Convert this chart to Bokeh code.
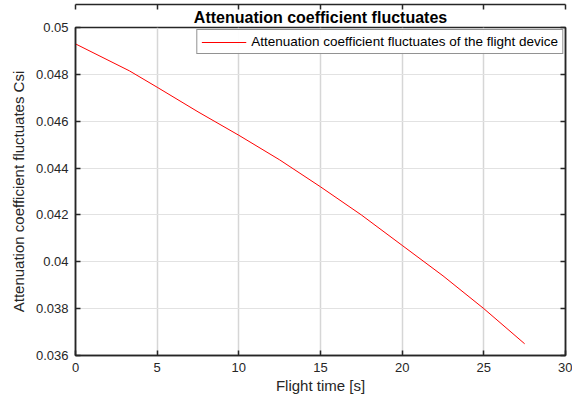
from bokeh.plotting import figure
from bokeh.models import Range1d, LinearAxis, FixedTicker, Legend, LegendItem, Title, Grid
from bokeh.embed import file_html
from bokeh.resources import INLINE

# Data
flight_time = [0, 3.3, 5, 7.5, 10, 12.5, 15, 17.5, 20, 22.5, 25, 27.5]
csi = [0.04930, 0.04815, 0.04745, 0.04640, 0.04540, 0.04435,
       0.04320, 0.04200, 0.04070, 0.03940, 0.03800, 0.03650]
x_ticks = [0, 5, 10, 15, 20, 25, 30]
y_ticks = [0.036, 0.038, 0.040, 0.042, 0.044, 0.046, 0.048, 0.050]
y_tick_labels = ["0.036", "0.038", "0.04", "0.042", "0.044", "0.046", "0.048", "0.05"]

FONT = "Liberation Sans"
AX = "#262626"

p = figure(width=572, height=396, output_backend="svg", toolbar_location=None,
           x_range=Range1d(0, 30), y_range=Range1d(0.036, 0.05),
           min_border_left=75, min_border_right=7, min_border_top=27, min_border_bottom=41,
           x_axis_location=None, y_axis_location=None)
p.background_fill_color = "white"
p.border_fill_color = "white"
p.outline_line_color = AX
p.outline_line_width = 1.5

title = Title(text="Attenuation coefficient fluctuates", align="center",
              text_font=FONT, text_font_size="16px", text_font_style="bold",
              text_color="black", standoff=4, offset=0)
p.add_layout(title, "above")

def style_axis(ax, show_labels):
    ax.axis_line_color = AX
    ax.axis_line_width = 1.5
    ax.major_tick_line_color = AX
    ax.major_tick_line_width = 1.5
    ax.major_tick_in = 5
    ax.major_tick_out = 0
    ax.minor_tick_line_color = None
    ax.major_label_text_font = FONT
    ax.major_label_text_color = AX
    if show_labels:
        ax.major_label_text_font_size = "13px"
        ax.major_label_standoff = 7
    else:
        ax.major_label_text_font_size = "0px"
        ax.major_label_standoff = 0
        ax.major_label_text_color = None

xb = LinearAxis(ticker=FixedTicker(ticks=x_ticks), axis_label="Flight time [s]")
style_axis(xb, True)
xb.major_label_standoff = 7
xb.axis_label_text_font = FONT
xb.axis_label_text_font_size = "15px"
xb.axis_label_text_font_style = "normal"
xb.axis_label_text_color = AX
xb.axis_label_standoff = 2
p.add_layout(xb, "below")

yl = LinearAxis(ticker=FixedTicker(ticks=y_ticks), axis_label="Attenuation coefficient fluctuates Csi")
style_axis(yl, True)
yl.major_label_overrides = {t: s for t, s in zip(y_ticks, y_tick_labels)}
yl.axis_label_text_font = FONT
yl.axis_label_text_font_size = "15px"
yl.axis_label_text_font_style = "normal"
yl.axis_label_text_color = AX
yl.axis_label_standoff = 6
p.add_layout(yl, "left")

xt = LinearAxis(ticker=FixedTicker(ticks=x_ticks))
style_axis(xt, False)
p.add_layout(xt, "above")
yr = LinearAxis(ticker=FixedTicker(ticks=y_ticks))
style_axis(yr, False)
p.add_layout(yr, "right")

p.xgrid.visible = False
p.ygrid.visible = False
gx = Grid(dimension=0, ticker=FixedTicker(ticks=x_ticks), grid_line_color="#d6d6d6", grid_line_width=1.5)
gy = Grid(dimension=1, ticker=FixedTicker(ticks=y_ticks), grid_line_color="#e2e2e2", grid_line_width=1)
p.add_layout(gx)
p.add_layout(gy)

r = p.line(flight_time, csi, line_color="#ff0000", line_width=1)

legend = Legend(items=[LegendItem(label="Attenuation coefficient fluctuates of the flight device", renderers=[r])],
                location="top_right", margin=2, padding=4, spacing=0,
                glyph_width=45, glyph_height=14, label_standoff=5,
                label_text_font=FONT, label_text_font_size="13.5px", label_text_color="black",
                border_line_color=AX, border_line_width=1, background_fill_color="white")
p.add_layout(legend)

open("out.html", "w").write(file_html(p, INLINE))
